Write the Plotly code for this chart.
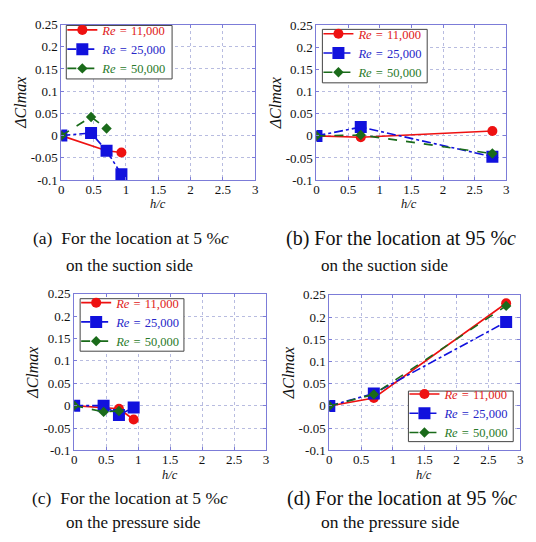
import plotly.graph_objects as go

W, H = 536, 542

# ---------------- data ----------------
RE_LABELS = ["11,000", "25,000", "50,000"]

# (a) 5 %c, suction side
A_X11 = [0, 0.7, 0.93]
A_Y11 = [0, -0.034, -0.038]
A_X25 = [0, 0.46, 0.7, 0.93]
A_Y25 = [0, 0.006, -0.034, -0.087]
A_X50 = [0, 0.46, 0.7]
A_Y50 = [0, 0.042, 0.016]

# (b) 95 %c, suction side
B_X = [0, 0.7, 2.78]
B_Y11 = [0, -0.003, 0.011]
B_Y25 = [0, 0.020, -0.047]
B_Y50 = [0, 0.002, -0.040]

# (c) 5 %c, pressure side
C_X11 = [0, 0.7, 0.93]
C_Y11 = [0, -0.007, -0.031]
C_X25 = [0, 0.46, 0.7, 0.93]
C_Y25 = [0, 0.0, -0.021, -0.004]
C_X50 = [0, 0.46, 0.7]
C_Y50 = [0, -0.014, -0.012]

# (d) 95 %c, pressure side
D_X = [0, 0.7, 2.78]
D_Y11 = [0, 0.018, 0.231]
D_Y25 = [0, 0.028, 0.189]
D_Y50 = [0, 0.026, 0.225]

X_TICKS = [0, 0.5, 1, 1.5, 2, 2.5, 3]
X_TICKTEXT = ["0", "0.5", "1", "1.5", "2", "2.5", "3"]
Y_TICKS = [-0.1, -0.05, 0, 0.05, 0.1, 0.15, 0.2, 0.25]
Y_TICKTEXT = ["-0.1", "-0.05", "0", "0.05", "0.1", "0.15", "0.2", "0.25"]

CAPTIONS = [
    ("(a)  For the location at 5 %<i>c</i>", "on the suction side"),
    ("(b) For the location at 95 %<i>c</i>", "on the suction side"),
    ("(c)  For the location at 5 %<i>c</i>", "on the pressure side"),
    ("(d) For the location at 95 %<i>c</i>", "on the pressure side"),
]
X_TITLE = "<i>h/c</i>"
Y_TITLE = "<i>ΔClmax</i>"

# ---------------- style ----------------
FONT = "Liberation Serif, Times New Roman, Times, DejaVu Serif, serif"
COLORS = ["#ee1111", "#1111dd", "#1a6b1a"]
TEXT_COLORS = ["#e02020", "#2626c8", "#2a7a2a"]
DASHES = ["solid", "dashdot", "dash"]
SYMBOLS = ["circle", "square", "diamond"]
SIZES = [10, 12, 8]
AXIS_COLOR = "#7c7cd8"
GRID_COLOR = "#b8bce0"


def px_x(p):
    return p / W


def px_y(p):
    return 1 - p / H


# panel boxes in pixels: (left, right, top, bottom)
PANELS = [
    (59, 255, 18, 178),
    (317, 509, 19, 178),
    (72, 266, 295, 456),
    (330, 523, 296, 456),
]
# legend frame boxes in pixels: (left, right, top, bottom)
LEG_BOX = [
    (64, 171, 19, 74),
    (323, 429, 23, 78),
    (78, 183, 300, 354),
    (410, 516, 395, 447),
]
# x-title centre in pixels
XTITLE_POS = [(157, 203), (411, 203), (169, 481), (426, 481)]

DATA = [
    [(A_X11, A_Y11), (A_X25, A_Y25), (A_X50, A_Y50)],
    [(B_X, B_Y11), (B_X, B_Y25), (B_X, B_Y50)],
    [(C_X11, C_Y11), (C_X25, C_Y25), (C_X50, C_Y50)],
    [(D_X, D_Y11), (D_X, D_Y25), (D_X, D_Y50)],
]

fig = go.Figure()
layout = dict(
    width=W, height=H,
    margin=dict(l=0, r=0, t=0, b=0),
    paper_bgcolor="white", plot_bgcolor="white",
    font=dict(family=FONT, size=13, color="#111111"),
    showlegend=True,
)
annotations = []
shapes = []

for i, panel in enumerate(DATA):
    n = i + 1
    xa = "x" if n == 1 else f"x{n}"
    ya = "y" if n == 1 else f"y{n}"
    leg = "legend" if n == 1 else f"legend{n}"
    for j, (xs, ys) in enumerate(panel):
        fig.add_trace(go.Scatter(
            x=xs, y=ys, xaxis=xa, yaxis=ya, legend=leg,
            mode="lines+markers",
            name=(f'<span style="color:{TEXT_COLORS[j]}"><i>Re</i>'
                  f'\u2004=\u2004{RE_LABELS[j]}</span>'),
            line=dict(color=COLORS[j], width=1.6, dash=DASHES[j]),
            marker=dict(symbol=SYMBOLS[j], size=SIZES[j], color=COLORS[j]),
        ))
    l, r, t, b = PANELS[i]
    axis_common = dict(
        showline=True, linecolor=AXIS_COLOR, linewidth=1, mirror="ticks",
        ticks="inside", ticklen=3, tickcolor=AXIS_COLOR,
        showgrid=True, gridcolor=GRID_COLOR, griddash="dot", gridwidth=1,
        zeroline=False, tickfont=dict(family=FONT, size=13, color="#111111"),
    )
    layout["xaxis" if n == 1 else f"xaxis{n}"] = dict(
        axis_common, domain=[px_x(l), px_x(r)], range=[0, 3],
        tickvals=X_TICKS, ticktext=X_TICKTEXT, anchor=ya, ticklabelstandoff=-3,
    )
    layout["yaxis" if n == 1 else f"yaxis{n}"] = dict(
        axis_common, domain=[px_y(b), px_y(t)], range=[-0.1, 0.25],
        tickvals=Y_TICKS, ticktext=Y_TICKTEXT, anchor=xa,
        title=dict(text=Y_TITLE, font=dict(family=FONT, size=16), standoff=0),
    )
    bl, br, bt, bb = LEG_BOX[i]
    shapes.append(dict(type="rect", xref="paper", yref="paper",
                       x0=px_x(bl), x1=px_x(br), y0=px_y(bb), y1=px_y(bt),
                       fillcolor="white", line=dict(color="#444444", width=1),
                       layer="above"))
    mid = (bt + bb) / 2
    layout[leg] = dict(
        x=px_x(bl - 4), y=px_y(mid - 38), xanchor="left", yanchor="top",
        xref="paper", yref="paper",
        bgcolor="rgba(0,0,0,0)", borderwidth=0,
        font=dict(family=FONT, size=12.5), itemwidth=30,
        tracegroupgap=0,
    )
    tx, ty = XTITLE_POS[i]
    annotations.append(dict(text=X_TITLE, x=px_x(tx), y=px_y(ty), xref="paper", yref="paper",
                            xanchor="center", yanchor="middle", showarrow=False,
                            font=dict(family=FONT, size=12.5, color="#111111")))

CAP_POS = [
    ((28, 238), (62, 266)),
    ((284, 238), (320, 266)),
    ((27, 505), (62, 530)),
    ((285, 505), (320, 530)),
]
CAP_SIZE1 = [17.5, 20, 17.5, 20]
CAP_SIZE2 = [17, 17, 17, 17.5]
for k, ((l1, l2), ((x1, y1), (x2, y2))) in enumerate(zip(CAPTIONS, CAP_POS)):
    annotations.append(dict(text=l1, x=px_x(x1), y=px_y(y1), xref="paper", yref="paper",
                            xanchor="left", yanchor="middle", showarrow=False,
                            font=dict(family=FONT, size=CAP_SIZE1[k], color="#111111")))
    annotations.append(dict(text=l2, x=px_x(x2), y=px_y(y2), xref="paper", yref="paper",
                            xanchor="left", yanchor="middle", showarrow=False,
                            font=dict(family=FONT, size=CAP_SIZE2[k], color="#111111")))
layout["annotations"] = annotations
layout["shapes"] = shapes

fig.update_layout(**layout)
fig.write_html("out.html")
